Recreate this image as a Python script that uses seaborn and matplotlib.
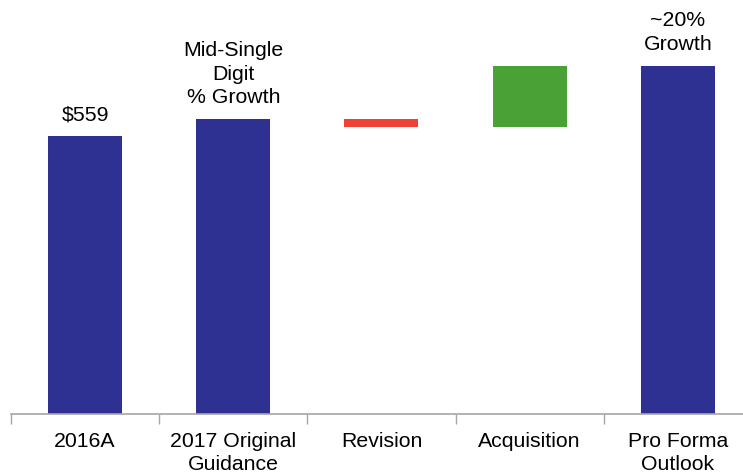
import matplotlib
matplotlib.use("Agg")
import matplotlib.pyplot as plt
import seaborn as sns
import numpy as np
import pandas as pd

# Revenue bridge: 2016 actual to 2017 pro forma outlook ($ millions)
categories = ["2016A", "2017 Original\nGuidance", "Revision", "Acquisition", "Pro Forma\nOutlook"]
bar_kinds = ["total", "total", "delta", "delta", "total"]
bar_values = [559, 593, -17, 124, 700]
bar_labels = ["$559", "Mid-Single\nDigit\n% Growth", "", "", "~20%\nGrowth"]
bar_colors = ["#2E3192", "#2E3192", "#EF4136", "#4AA236", "#2E3192"]

# Floating segments: totals start at zero, deltas continue from the running level
bottoms, heights, tops = [], [], []
level = 0
for kind, v in zip(bar_kinds, bar_values):
    if kind == "total":
        bottoms.append(0)
        heights.append(v)
        level = v
    else:
        new_level = level + v
        bottoms.append(min(level, new_level))
        heights.append(abs(v))
        level = new_level
    tops.append(bottoms[-1] + heights[-1])

df = pd.DataFrame({"category": categories, "height": heights})

sns.set_theme(style="white")
plt.rcParams["font.family"] = ["Liberation Sans", "DejaVu Sans"]

FS = 15.3
LS = 1.32

fig = plt.figure(figsize=(7.43, 4.77), dpi=100)
ax = fig.add_axes([11 / 743, 62 / 477, 732 / 743, 415 / 477])

sns.barplot(data=df, x="category", y="height", bottom=bottoms, color=bar_colors[0],
            width=0.5, saturation=1, ax=ax, linewidth=0)
for patch, c in zip(ax.patches, bar_colors):
    patch.set_facecolor(c)
    patch.set_edgecolor(c)

for i, (lab, top) in enumerate(zip(bar_labels, tops)):
    if lab:
        ax.annotate(lab, xy=(i, top), xytext=(0, 9), textcoords="offset points",
                    ha="center", va="bottom", fontsize=FS, color="black",
                    linespacing=LS)

ax.set_xlim(-0.5, 4.44)
ax.set_ylim(0, 834)

# Category names centred under bars; tick marks between categories
ax.set_xticks(np.arange(len(categories)) - 0.5)
ax.set_xticklabels([])
ax.set_xticks(np.arange(len(categories)), minor=True)
ax.set_xticklabels(categories, minor=True, linespacing=LS)
ax.tick_params(axis="x", which="major", length=7, width=1, color="#A6A6A6",
               direction="out", bottom=True)
ax.tick_params(axis="x", which="minor", length=0, pad=12, labelsize=FS,
               labelcolor="black", bottom=True)
ax.set_xlabel("")
ax.set_ylabel("")
ax.set_yticks([])

for side in ["top", "right", "left"]:
    ax.spines[side].set_visible(False)
ax.spines["bottom"].set_color("#A6A6A6")
ax.spines["bottom"].set_linewidth(1.2)

fig.savefig("out.png", dpi=100, facecolor="white")
